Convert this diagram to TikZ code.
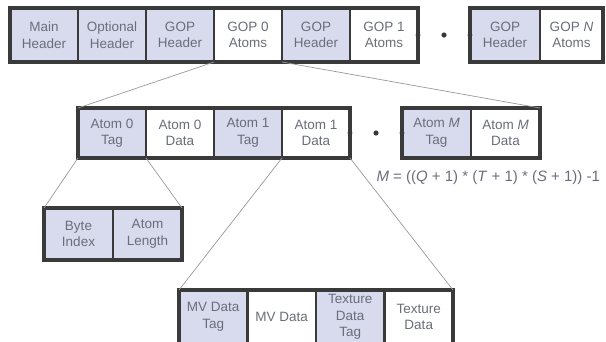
\documentclass[tikz,border=0pt]{standalone}
\usepackage{fontspec}
\setmainfont{Liberation Sans}
\usetikzlibrary{positioning}
\definecolor{tagfill}{HTML}{D7DBED}
\definecolor{cellline}{HTML}{3A3A3A}
\definecolor{celltext}{HTML}{6A6E7A}
\tikzset{
	cell/.style={draw=cellline, line width=2.2pt, fill=white, text=celltext,
		inner sep=0pt, outer sep=0pt, align=center,
		minimum width=68pt, minimum height=54pt,
		font=\fontsize{13.5}{16.5}\selectfont},
	tag/.style={cell, fill=tagfill},
	frame/.style={draw=cellline, line width=3.2pt},
	link/.style={draw=gray!80, line width=0.7pt},
	gap/.style={fill=cellline}
}
\begin{document}
\begin{tikzpicture}[x=1pt, y=-1pt]
	\useasboundingbox (0,0) rectangle (606,341);
	% stream level
	\node[tag, anchor=north west] (mainhdr) at (10,8) {Main\\Header};
	\node[tag, right=0pt of mainhdr] (opthdr) {Optional\\Header};
	\node[tag, right=0pt of opthdr] (gop0hdr) {GOP\\Header};
	\node[cell, right=0pt of gop0hdr] (gop0atoms) {GOP 0\\Atoms};
	\node[tag, right=0pt of gop0atoms] (gop1hdr) {GOP\\Header};
	\node[cell, right=0pt of gop1hdr] (gop1atoms) {GOP 1\\Atoms};
	\node[tag, anchor=north west, minimum width=70pt] (gopNhdr) at (470,8) {GOP\\Header};
	\node[cell, right=0pt of gopNhdr, minimum width=63pt] (gopNatoms) {GOP \textit{N}\\Atoms};
	% atoms of one GOP
	\node[tag, anchor=north west, minimum height=50pt] (atom0tag) at (78,108) {Atom 0\\Tag};
	\node[cell, right=0pt of atom0tag, minimum height=50pt] (atom0data) {Atom 0\\Data};
	\node[tag, right=0pt of atom0data, minimum height=50pt] (atom1tag) {Atom 1\\Tag};
	\node[cell, right=0pt of atom1tag, minimum height=50pt] (atom1data) {Atom 1\\Data};
	\node[tag, anchor=north west, minimum width=69pt, minimum height=50pt] (atomMtag) at (402,108) {Atom \textit{M}\\Tag};
	\node[cell, right=0pt of atomMtag, minimum width=69pt, minimum height=50pt] (atomMdata) {Atom \textit{M}\\Data};
	\node[text=celltext, anchor=base west, font=\fontsize{15}{18}\selectfont] (count) at (373,181)
		{\textit{M} = ((\textit{Q} + 1) * (\textit{T} + 1) * (\textit{S} + 1)) -1};
	% tag and data contents
	\node[tag, anchor=north west, minimum width=69pt, minimum height=52pt] (byteidx) at (44,208) {Byte\\Index};
	\node[tag, right=0pt of byteidx, minimum width=69pt, minimum height=52pt] (atomlen) {Atom\\Length};
	\node[tag, anchor=north west, minimum width=68.5pt] (mvtag) at (179,290) {MV Data\\Tag};
	\node[cell, right=0pt of mvtag, minimum width=68.5pt] (mvdata) {MV Data};
	\node[tag, right=0pt of mvdata, minimum width=68.5pt] (textag) {Texture\\Data\\Tag};
	\node[cell, right=0pt of textag, minimum width=68.5pt] (texdata) {Texture\\Data};
	% outer frames
	\draw[frame] (mainhdr.north west) rectangle (gop1atoms.south east);
	\draw[frame] (gopNhdr.north west) rectangle (gopNatoms.south east);
	\draw[frame] (atom0tag.north west) rectangle (atom1data.south east);
	\draw[frame] (atomMtag.north west) rectangle (atomMdata.south east);
	\draw[frame] (byteidx.north west) rectangle (atomlen.south east);
	\draw[frame] (mvtag.north west) rectangle (texdata.south east);
	% expansion lines
	\draw[link] (gop0atoms.south west) -- (atom0tag.north west);
	\draw[link] (gop0atoms.south east) -- (atomMdata.north east);
	\draw[link] (atom0tag.south west) -- (byteidx.north west);
	\draw[link] (atom0tag.south east) -- (atomlen.north east);
	\draw[link] (atom1data.south west) -- (mvtag.north west);
	\draw[link] (atom1data.south east) -- (texdata.north east);
	% ellipsis dots
	\fill[gap] (gop1atoms.east) circle (2.4pt) ++(26,0) circle (2.6pt);
	\fill[gap] (gopNhdr.west) circle (2.4pt);
	\fill[gap] (atom1data.east) circle (2.4pt) ++(26,0) circle (2.6pt);
	\fill[gap] (atomMtag.west) circle (2.4pt);
\end{tikzpicture}
\end{document}
